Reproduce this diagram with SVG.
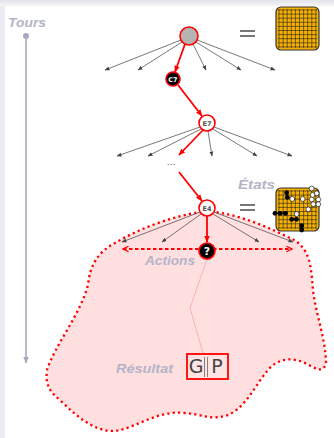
<svg xmlns="http://www.w3.org/2000/svg" width="334" height="438" viewBox="0 0 334 438">
  <style>
    .lbl { font-family: "Liberation Sans", Arial, sans-serif; font-weight: bold; font-style: italic; font-size: 13px; fill: #b4b4c8; }
    .edge { stroke: #555; stroke-width: 0.8; fill: none; marker-end: url(#ga); }
    .path { stroke: #ff0000; stroke-width: 1.8; fill: none; marker-end: url(#ra); }
    .ntxt { font-family: "DejaVu Sans", sans-serif; font-weight: bold; text-anchor: middle; }
    .grid line { stroke: #222; stroke-width: 0.6; }
    .eq { stroke: #555; stroke-width: 1.6; }
  </style>
  <defs>
    <marker id="ga" viewBox="0 0 10 10" refX="9" refY="5" markerWidth="5" markerHeight="5" orient="auto" markerUnits="userSpaceOnUse">
      <path d="M0,1 L10,5 L0,9 z" fill="#444"/>
    </marker>
    <marker id="ra" viewBox="0 0 10 10" refX="9" refY="5" markerWidth="7" markerHeight="7" orient="auto" markerUnits="userSpaceOnUse">
      <path d="M0,1 L10,5 L0,9 z" fill="#ff0000"/>
    </marker>
    <marker id="ta" viewBox="0 0 10 10" refX="9" refY="5" markerWidth="7" markerHeight="7" orient="auto" markerUnits="userSpaceOnUse">
      <path d="M0,1 L10,5 L0,9 z" fill="#a8a8c0"/>
    </marker>
    <marker id="da" viewBox="0 0 10 10" refX="9" refY="5" markerWidth="7" markerHeight="7" orient="auto-start-reverse" markerUnits="userSpaceOnUse">
      <path d="M1,1 L9,5 L1,9" fill="none" stroke="#ff0000" stroke-width="1.8"/>
    </marker>
    <linearGradient id="topband" x1="0" y1="0" x2="0" y2="1">
      <stop offset="0" stop-color="#e2e2ea"/>
      <stop offset="1" stop-color="#f4f4f8"/>
    </linearGradient>
    <!-- Go board grid, 43x43 -->
    <g id="board">
      <rect x="0" y="0" width="43" height="43" rx="5" fill="#f5b000" stroke="#333" stroke-width="1.2"/>
      <g class="grid">
        <line x1="3" y1="2" x2="3" y2="41"/><line x1="7.1" y1="2" x2="7.1" y2="41"/><line x1="11.2" y1="2" x2="11.2" y2="41"/>
        <line x1="15.3" y1="2" x2="15.3" y2="41"/><line x1="19.4" y1="2" x2="19.4" y2="41"/><line x1="23.5" y1="2" x2="23.5" y2="41"/>
        <line x1="27.6" y1="2" x2="27.6" y2="41"/><line x1="31.7" y1="2" x2="31.7" y2="41"/><line x1="35.8" y1="2" x2="35.8" y2="41"/>
        <line x1="39.9" y1="2" x2="39.9" y2="41"/>
        <line y1="3" x1="2" y2="3" x2="41"/><line y1="7.1" x1="2" y2="7.1" x2="41"/><line y1="11.2" x1="2" y2="11.2" x2="41"/>
        <line y1="15.3" x1="2" y2="15.3" x2="41"/><line y1="19.4" x1="2" y2="19.4" x2="41"/><line y1="23.5" x1="2" y2="23.5" x2="41"/>
        <line y1="27.6" x1="2" y2="27.6" x2="41"/><line y1="31.7" x1="2" y2="31.7" x2="41"/><line y1="35.8" x1="2" y2="35.8" x2="41"/>
        <line y1="39.9" x1="2" y2="39.9" x2="41"/>
      </g>
    </g>
  </defs>

  <!-- slide background -->
  <rect width="334" height="438" fill="#ececf2"/>
  <rect x="0" y="0" width="334" height="6" fill="url(#topband)"/>
  <rect x="5" y="6" width="329" height="432" fill="#ffffff"/>

  <!-- time axis -->
  <g id="tours">
    <text class="lbl" x="8" y="27" textLength="38" lengthAdjust="spacingAndGlyphs">Tours</text>
    <line x1="26" y1="36" x2="26" y2="363" stroke="#a8a8c0" stroke-width="1.6" marker-end="url(#ta)"/>
    <circle cx="26" cy="36" r="3" fill="#a8a8c0"/>
  </g>

  <!-- explored region under the last state -->
  <g id="region">
    <path d="M207,211 C175,215 140,228 115,243 C98,252 90,265 88,285 C80,315 55,345 47,370 C45,385 50,392 60,400 C80,420 100,435 120,430 C140,425 160,410 185,413 C200,414 210,420 225,416 C245,410 255,385 268,370 C278,358 292,357 305,363 C315,368 322,374 326,364 C326,340 316,315 313,290 C311,265 310,252 296,241 C270,228 240,214 207,211 Z"
          fill="#ffdfdf" stroke="#ff0000" stroke-width="2.3" stroke-dasharray="2.2 3.2"/>
  </g>

  <!-- connectors -->
  <g id="connectors">
    <line class="edge" x1="181" y1="40" x2="105" y2="70"/>
    <line class="edge" x1="182" y1="42" x2="138" y2="70"/>
    <line class="edge" x1="193" y1="44" x2="206" y2="70"/>
    <line class="edge" x1="196" y1="42" x2="241" y2="70"/>
    <line class="edge" x1="197" y1="40" x2="275" y2="70"/>
    <line class="path" x1="185" y1="44" x2="175" y2="72"/>
    <line class="path" x1="178" y1="85" x2="202" y2="116"/>

    <line class="edge" x1="200" y1="127" x2="117" y2="156"/>
    <line class="edge" x1="201" y1="129" x2="148" y2="156"/>
    <line class="edge" x1="208" y1="131" x2="212" y2="156"/>
    <line class="edge" x1="213" y1="129" x2="257" y2="156"/>
    <line class="edge" x1="214" y1="127" x2="292" y2="156"/>
    <line class="path" x1="203" y1="130" x2="179" y2="155"/>
    <line class="path" x1="179" y1="172" x2="202" y2="201"/>

    <line class="edge" x1="200" y1="212" x2="122" y2="242"/>
    <line class="edge" x1="201" y1="214" x2="162" y2="242"/>
    <line class="edge" x1="213" y1="214" x2="259" y2="242"/>
    <line class="edge" x1="214" y1="212" x2="293" y2="242"/>
    <line class="path" x1="207" y1="216" x2="207" y2="242"/>

    <line x1="123" y1="249" x2="292" y2="249" stroke="#ff0000" stroke-width="1.8" stroke-dasharray="3.5 2.5" marker-start="url(#da)" marker-end="url(#da)"/>
    <polyline points="207,259 190,308 203,353" fill="none" stroke="#f07070" stroke-width="0.8" stroke-dasharray="1 1"/>
  </g>

  <!-- nodes -->
  <g id="root">
    <circle cx="189" cy="36" r="9" fill="#b4b4b4" stroke="#ff0000" stroke-width="1.6"/>
  </g>
  <g id="eq-top">
    <line class="eq" x1="240" y1="31" x2="255" y2="31"/>
    <line class="eq" x1="240" y1="36" x2="255" y2="36"/>
  </g>
  <g id="board-empty">
    <use href="#board" x="276" y="7"/>
  </g>
  <g id="c7">
    <circle cx="173" cy="79" r="7" fill="#000" stroke="#ff0000" stroke-width="1.6"/>
    <text class="ntxt" x="173" y="81.5" font-size="6.5" fill="#fff">C7</text>
  </g>
  <g id="e7">
    <circle cx="207" cy="123" r="8" fill="#fff" stroke="#ff0000" stroke-width="1.6"/>
    <text class="ntxt" x="207" y="125.5" font-size="6.5" fill="#555">E7</text>
  </g>
  <g id="ellipsis">
    <text x="171" y="168" font-family="DejaVu Sans, sans-serif" font-size="9" fill="#555" text-anchor="middle">···</text>
  </g>
  <g id="e4">
    <circle cx="207" cy="208" r="8" fill="#fff" stroke="#ff0000" stroke-width="1.6"/>
    <text class="ntxt" x="207" y="210.5" font-size="6.5" fill="#555">E4</text>
  </g>
  <g id="etats">
    <text class="lbl" x="238" y="189" textLength="37" lengthAdjust="spacingAndGlyphs">États</text>
    <line class="eq" x1="240" y1="205" x2="255" y2="205"/>
    <line class="eq" x1="240" y1="210" x2="255" y2="210"/>
  </g>
  <g id="board-game">
    <use href="#board" x="276" y="188"/>
    <g stroke="#000" stroke-width="1.6">
      <line x1="275" y1="213.3" x2="286" y2="213.3"/>
      <line x1="287" y1="192.7" x2="287" y2="197.3"/>
      <line x1="291.7" y1="219.3" x2="296" y2="219.3"/>
      <line x1="301.7" y1="225.7" x2="301.7" y2="230"/>
    </g>
    <g fill="#000">
      <circle cx="286.7" cy="192.7" r="2.4"/>
      <circle cx="287.3" cy="197.3" r="2.4"/>
      <circle cx="275" cy="213.3" r="2.4"/>
      <circle cx="280" cy="213.3" r="2.4"/>
      <circle cx="285.5" cy="213.3" r="2.4"/>
      <circle cx="291.7" cy="219.3" r="2.4"/>
      <circle cx="296.5" cy="219.3" r="2.4"/>
      <circle cx="301.7" cy="225.7" r="2.4"/>
      <circle cx="301.7" cy="230" r="2.4"/>
    </g>
    <g fill="#fff" stroke="#000" stroke-width="0.6">
      <circle cx="292.3" cy="199" r="2.4"/>
      <circle cx="302.7" cy="199" r="2.4"/>
      <circle cx="311.7" cy="188.5" r="2.4"/>
      <circle cx="316.7" cy="193.3" r="2.4"/>
      <circle cx="312.5" cy="195" r="2.4"/>
      <circle cx="311.7" cy="199.5" r="2.4"/>
      <circle cx="318.3" cy="199.5" r="2.4"/>
      <circle cx="313.3" cy="204.2" r="2.4"/>
      <circle cx="318.3" cy="204.2" r="2.4"/>
      <circle cx="308.3" cy="209.3" r="2.4"/>
      <circle cx="296.7" cy="214" r="2.4"/>
    </g>
  </g>
  <g id="unknown">
    <circle cx="207" cy="251" r="8" fill="#000" stroke="#ff0000" stroke-width="1.6"/>
    <text class="ntxt" x="207" y="255" font-size="11" fill="#fff">?</text>
  </g>
  <g id="actions">
    <text class="lbl" x="145" y="265" textLength="50" lengthAdjust="spacingAndGlyphs">Actions</text>
  </g>
  <g id="resultat">
    <text class="lbl" x="116" y="373" textLength="57" lengthAdjust="spacingAndGlyphs">Résultat</text>
  </g>
  <g id="outcome">
    <rect x="187" y="354" width="41" height="25" fill="#ffe4e4" stroke="#ff0000" stroke-width="1.8"/>
    <text x="196" y="373" font-family="DejaVu Sans, sans-serif" font-size="19" fill="#444" text-anchor="middle">G</text>
    <text x="217" y="373" font-family="DejaVu Sans, sans-serif" font-size="19" fill="#444" text-anchor="middle">P</text>
    <line x1="204.5" y1="357" x2="204.5" y2="377" stroke="#555" stroke-width="0.7"/>
    <line x1="207.5" y1="357" x2="207.5" y2="377" stroke="#555" stroke-width="0.7"/>
  </g>
</svg>
